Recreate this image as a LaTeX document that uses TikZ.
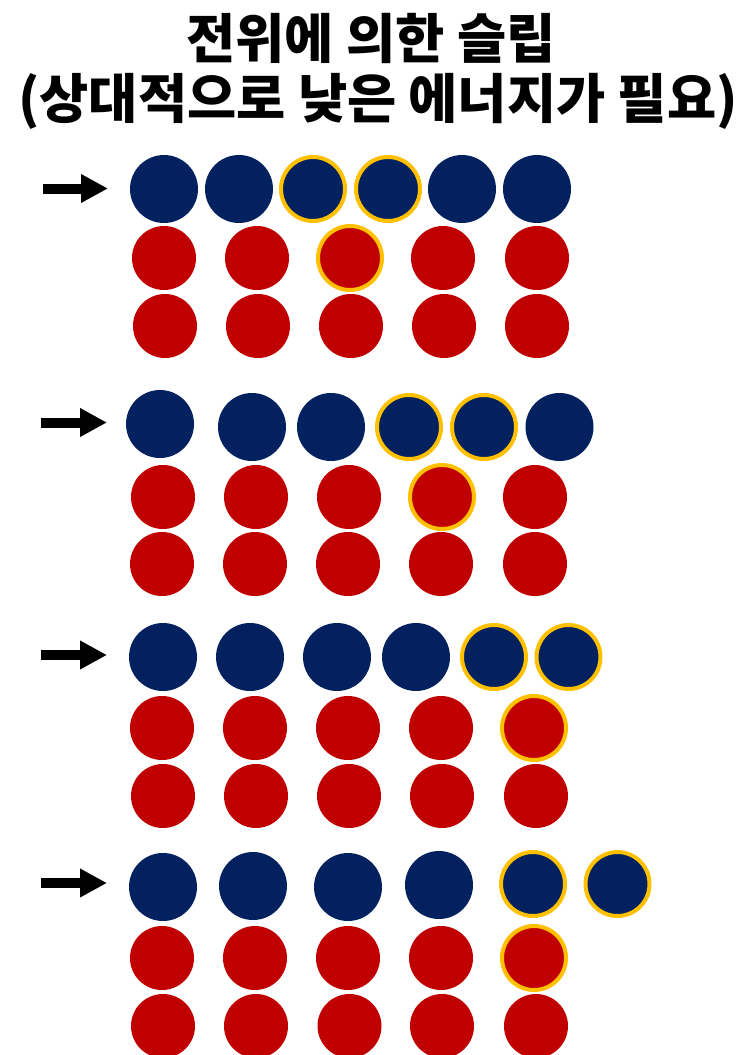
\documentclass[tikz,border=0pt]{standalone}
\usepackage{fontspec}
\usepackage{tikz}
\usetikzlibrary{arrows.meta}
\newfontfamily\titlefont{Noto Sans CJK KR}[BoldFont={* Black}]
\definecolor{atomBlue}{HTML}{03215F}
\definecolor{atomRed}{HTML}{C00000}
\definecolor{ringGold}{HTML}{FFC000}
\tikzset{
  blueatom/.style={circle, inner sep=0pt, fill=atomBlue, minimum size=68pt},
  redatom/.style={circle, inner sep=0pt, fill=atomRed, minimum size=64pt},
  moved/.style={draw=ringGold, line width=4pt, minimum size=64pt},
  push/.style={line width=10pt, -{Triangle[length=27pt, width=27pt]}},
  heading/.style={font=\titlefont\bfseries\fontsize{53.5}{60}\selectfont, inner sep=0pt}
}
\begin{document}
\begin{tikzpicture}[x=1pt, y=-1pt]
  \useasboundingbox (0,0) rectangle (742,1055);
  \node[heading] (title1) at (371,38) {전위에 의한 슬립};
  \node[heading] (title2) at (378,101) {(상대적으로 낮은 에너지가 필요)};

  % step 1
  \coordinate (s1) at (43,188.5);
  \coordinate (e1) at (108,188.5);
  \draw[push] (s1) -- (e1);
  \foreach \i/\x/\st in {1/164/, 2/239/, 3/313/moved, 4/388/moved, 5/462/, 6/537/}
    \node[blueatom, \st] (b1\i) at (\x,189) {};
  \foreach \i/\x/\st in {1/164/, 2/257/, 3/350/moved, 4/443/, 5/537/}
    \node[redatom, \st] (r1a\i) at (\x,258) {};
  \foreach \i/\x in {1/165, 2/258, 3/351, 4/444, 5/537}
    \node[redatom] (r1b\i) at (\x,326) {};

  % step 2
  \coordinate (s2) at (41,422.5);
  \coordinate (e2) at (107,422.5);
  \draw[push] (s2) -- (e2);
  \foreach \i/\x/\y/\st in {1/160/424/, 2/252/427/, 3/331/427/, 4/409/427/moved, 5/484/427/moved, 6/559.5/427/}
    \node[blueatom, \st] (b2\i) at (\x,\y) {};
  \foreach \i/\x/\st in {1/163/, 2/256/, 3/349/, 4/442/moved, 5/535/}
    \node[redatom, \st] (r2a\i) at (\x,497) {};
  \foreach \i/\x in {1/162, 2/255, 3/348, 4/441, 5/535}
    \node[redatom] (r2b\i) at (\x,564) {};

  % step 3
  \coordinate (s3) at (41,655);
  \coordinate (e3) at (107,655);
  \draw[push] (s3) -- (e3);
  \foreach \i/\x/\st in {1/163/, 2/250/, 3/337/, 4/416/, 5/494/moved, 6/568.5/moved}
    \node[blueatom, \st] (b3\i) at (\x,657) {};
  \foreach \i/\x/\st in {1/162/, 2/255/, 3/348/, 4/441/, 5/534/moved}
    \node[redatom, \st] (r3a\i) at (\x,728) {};
  \foreach \i/\x in {1/163, 2/256, 3/349, 4/442, 5/536}
    \node[redatom] (r3b\i) at (\x,796) {};

  % step 4
  \coordinate (s4) at (41,883);
  \coordinate (e4) at (107,883);
  \draw[push] (s4) -- (e4);
  \foreach \i/\x/\y/\st in {1/163/887/, 2/253/886/, 3/348/887/, 4/439/885/, 5/533/884/moved, 6/617.5/884/moved}
    \node[blueatom, \st] (b4\i) at (\x,\y) {};
  \foreach \i/\x/\st in {1/162/, 2/255/, 3/348/, 4/441/, 5/534/moved}
    \node[redatom, \st] (r4a\i) at (\x,958) {};
  \foreach \i/\x in {1/163, 2/256, 3/349.5, 4/442, 5/536}
    \node[redatom] (r4b\i) at (\x,1026) {};
\end{tikzpicture}
\end{document}
